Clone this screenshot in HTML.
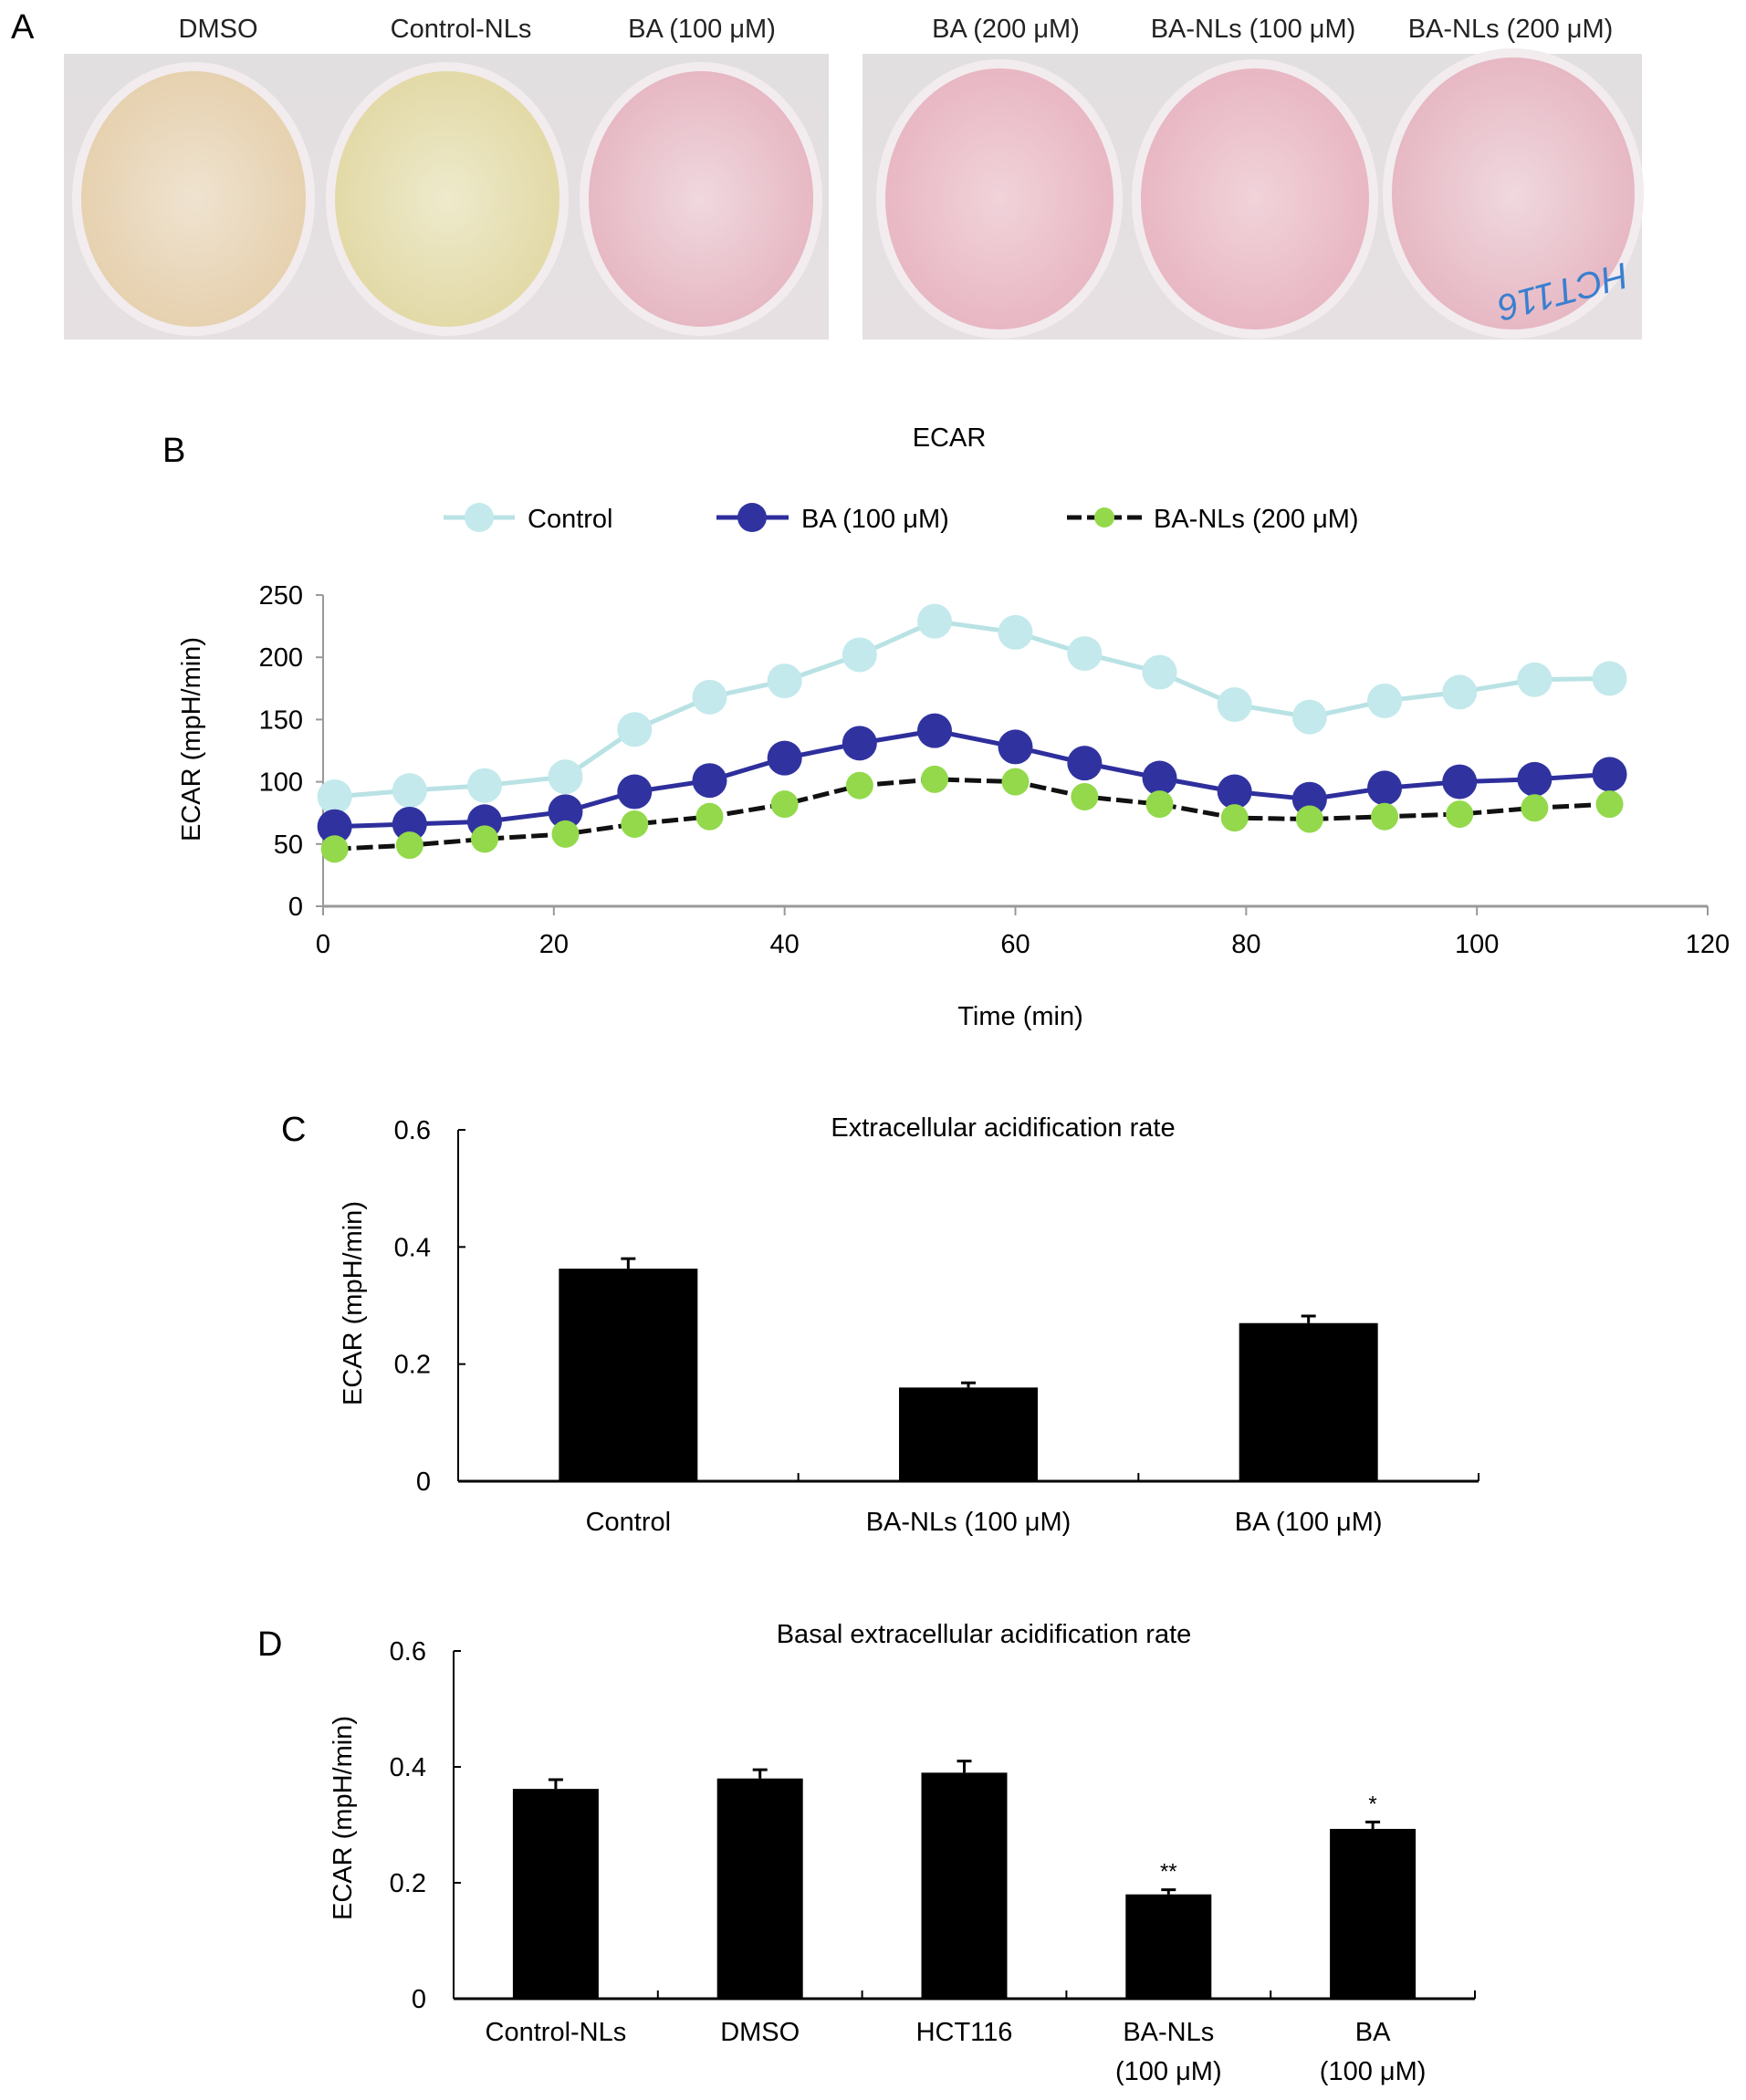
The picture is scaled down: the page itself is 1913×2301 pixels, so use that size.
<!DOCTYPE html>
<html><head><meta charset="utf-8"><style>
html,body{margin:0;padding:0;background:#fff;}
svg{display:block;font-family:"Liberation Sans",sans-serif;}
</style></head><body>
<svg id="fig" width="1913" height="2301" viewBox="0 0 1913 2301" xmlns="http://www.w3.org/2000/svg">
<defs>
<linearGradient id="plate" x1="0" y1="0" x2="0" y2="1"><stop offset="0" stop-color="#e2dfe0"/><stop offset="1" stop-color="#e6e0e2"/></linearGradient>
<radialGradient id="w1"><stop offset="0" stop-color="#efe3d0"/><stop offset="1" stop-color="#e6d0ae"/></radialGradient>
<radialGradient id="w2"><stop offset="0" stop-color="#eeeacc"/><stop offset="1" stop-color="#e2d9a6"/></radialGradient>
<radialGradient id="w3"><stop offset="0" stop-color="#f0d8de"/><stop offset="1" stop-color="#e6b7c3"/></radialGradient>
<radialGradient id="w4"><stop offset="0" stop-color="#f1d3da"/><stop offset="1" stop-color="#e8b6c3"/></radialGradient>
</defs>
<g>
<text x="12" y="42" font-size="38">A</text>
<g font-size="29" text-anchor="middle" fill="#222">
<text x="239" y="41">DMSO</text>
<text x="505" y="41">Control-NLs</text>
<text x="769" y="41">BA (100 μM)</text>
<text x="1102" y="41">BA (200 μM)</text>
<text x="1373" y="41">BA-NLs (100 μM)</text>
<text x="1655" y="41">BA-NLs (200 μM)</text>
</g>
<rect x="70" y="59" width="838" height="313" fill="url(#plate)"/>
<rect x="945" y="59" width="854" height="313" fill="url(#plate)"/>
<g stroke="#f2ecee" stroke-width="10">
<ellipse cx="212" cy="218" rx="128" ry="145" fill="url(#w1)"/>
<ellipse cx="490" cy="218" rx="128" ry="145" fill="url(#w2)"/>
<ellipse cx="768" cy="218" rx="128" ry="145" fill="url(#w3)"/>
<ellipse cx="1095" cy="218" rx="130" ry="148" fill="url(#w4)"/>
<ellipse cx="1375" cy="218" rx="130" ry="148" fill="url(#w4)"/>
<ellipse cx="1658" cy="212" rx="138" ry="154" fill="url(#w3)"/>
</g>
<text x="1712" y="330" font-size="40" fill="#3a7fd0" font-style="italic" text-anchor="middle" transform="rotate(165 1712 318)">HCT116</text>
</g>
<g id="panelB">
<text x="178" y="506" font-size="38">B</text>
<text x="1040" y="489" font-size="29" text-anchor="middle">ECAR</text>
<g>
<g><line x1="486" y1="567" x2="564" y2="567" stroke="#b9e2e4" stroke-width="5"/><circle cx="525" cy="567" r="16" fill="#c3e9ec"/><text x="578" y="578" font-size="29">Control</text></g>
<g><line x1="785" y1="567" x2="864" y2="567" stroke="#2e2f9c" stroke-width="5"/><circle cx="824" cy="567" r="16" fill="#30339f"/><text x="878" y="578" font-size="29">BA (100 μM)</text></g>
<g><line x1="1169" y1="567" x2="1252" y2="567" stroke="#111" stroke-width="5" stroke-dasharray="16 6"/><circle cx="1210" cy="567" r="11" fill="#93d94b"/><text x="1264" y="578" font-size="29">BA-NLs (200 μM)</text></g>
</g>
<g id="bAxes"></g>
<g id="bSeries"></g>
<text x="1118" y="1123" font-size="29" text-anchor="middle">Time (min)</text>
<text transform="translate(219 810) rotate(-90)" font-size="29" text-anchor="middle">ECAR (mpH/min)</text>
</g>
<g id="panelC">
<text x="308" y="1250" font-size="38">C</text>
<text x="1099" y="1245" font-size="29" text-anchor="middle">Extracellular acidification rate</text>
<text transform="translate(396 1428) rotate(-90)" font-size="29" text-anchor="middle">ECAR (mpH/min)</text>
</g>
<g id="panelD">
<text x="282" y="1814" font-size="38">D</text>
<text x="1078" y="1800" font-size="29" text-anchor="middle">Basal extracellular acidification rate</text>
<text transform="translate(385 1992) rotate(-90)" font-size="29" text-anchor="middle">ECAR (mpH/min)</text>
</g>
</svg>
<script>
const bTimes = [1, 7.5, 14, 21, 27, 33.5, 40, 46.5, 53, 60, 66, 72.5, 79, 85.5, 92, 98.5, 105, 111.5];
const bControl = [88, 93, 97, 104, 142, 168, 181, 202, 229, 220, 203, 188, 162, 152, 165, 172, 182, 183];
const bBA = [64, 66, 68, 76, 92, 101, 119, 131, 141, 128, 115, 103, 92, 86, 95, 100, 102, 106];
const bBANLs = [46, 49, 54, 58, 66, 72, 82, 97, 102, 100, 88, 82, 71, 70, 72, 74, 79, 82];
const bXTicks = [0, 20, 40, 60, 80, 100, 120];
const bYTicks = [0, 50, 100, 150, 200, 250];
const cCats = ["Control", "BA-NLs (100 μM)", "BA (100 μM)"];
const cVals = [0.363, 0.160, 0.270];
const cErr = [0.017, 0.008, 0.012];
const cYTicks = [0, 0.2, 0.4, 0.6];
const dCats = [["Control-NLs"], ["DMSO"], ["HCT116"], ["BA-NLs", "(100 μM)"], ["BA", "(100 μM)"]];
const dVals = [0.362, 0.380, 0.390, 0.180, 0.293];
const dErr = [0.016, 0.015, 0.020, 0.008, 0.012];
const dStars = ["", "", "", "**", "*"];
const dYTicks = [0, 0.2, 0.4, 0.6];

const NS = "http://www.w3.org/2000/svg";
function mk(tag, attrs, parent) {
  const e = document.createElementNS(NS, tag);
  for (const k in attrs) e.setAttribute(k, attrs[k]);
  parent.appendChild(e);
  return e;
}
const bx = v => 354 + (v / 120) * (1871 - 354);
const by = v => 993 - (v / 250) * (993 - 652);
const bA = document.getElementById('bAxes');
const bS = document.getElementById('bSeries');
let l = mk('line', {x1: 354, y1: 993, x2: 1871, y2: 993, stroke: '#999', 'stroke-width': 3}, bA);


l = mk('line', {x1: 354, y1: 652, x2: 354, y2: 993, stroke: '#999', 'stroke-width': 2}, bA);


bXTicks.forEach(t => {
  mk('line', {x1: bx(t), y1: 993, x2: bx(t), y2: 1003, stroke: '#999', 'stroke-width': 2}, bA);
  const tx = mk('text', {x: bx(t), y: 1044, 'font-size': 29, 'text-anchor': 'middle'}, bA);
  tx.textContent = t;
  
  
});
bYTicks.forEach(t => {
  mk('line', {x1: 346, y1: by(t), x2: 354, y2: by(t), stroke: '#999', 'stroke-width': 2}, bA);
  const tx = mk('text', {x: 332, y: by(t) + 10, 'font-size': 29, 'text-anchor': 'end'}, bA);
  tx.textContent = t;
  
  
});
function series(vals, color, lineColor, r, name, dash) {
  const g = mk('g', {}, bS);
  
  
  const pts = vals.map((v, i) => bx(bTimes[i]) + ',' + by(v)).join(' ');
  const attrs = {points: pts, fill: 'none', stroke: lineColor, 'stroke-width': 5};
  if (dash) attrs['stroke-dasharray'] = dash;
  mk('polyline', attrs, g);
  vals.forEach((v, i) => {
    const c = mk('circle', {cx: bx(bTimes[i]), cy: by(v), r: r, fill: color}, g);
    
    
  });
}
series(bControl, '#c3e9ec', '#b9e2e4', 19, 'series-control');
series(bBA, '#30339f', '#2e2f9c', 19, 'series-ba-100');
series(bBANLs, '#93d94b', '#111', 15, 'series-ba-nls-200', '18 6');

function barChart(parent, o) {
  const y = v => o.y0 - (v / 0.6) * (o.y0 - o.y6);
  const g = document.getElementById(parent);
  let a = mk('line', {x1: o.ax, y1: o.y6, x2: o.ax, y2: o.y0, stroke: '#000', 'stroke-width': 2}, g);
  
  
  a = mk('line', {x1: o.ax, y1: o.y0, x2: o.xEnd, y2: o.y0, stroke: '#000', 'stroke-width': 3}, g);
  
  
  o.yTicks.forEach(t => {
    mk('line', {x1: o.ax, y1: y(t), x2: o.ax + 8, y2: y(t), stroke: '#000', 'stroke-width': 2}, g);
    const tx = mk('text', {x: o.ax - 30, y: y(t) + 10, 'font-size': 29, 'text-anchor': 'end'}, g);
    tx.textContent = t === 0 ? '0' : t.toFixed(1);
    
    
  });
  const n = o.vals.length;
  const step = (o.xEnd - o.ax) / n;
  for (let k = 1; k <= n; k++) mk('line', {x1: o.ax + k * step, y1: o.y0, x2: o.ax + k * step, y2: o.y0 - 9, stroke: '#000', 'stroke-width': 2}, g);
  o.vals.forEach((v, i) => {
    const cx = o.ax + (i + 0.5) * step;
    const b = mk('rect', {x: cx - o.bw / 2, y: y(v), width: o.bw, height: o.y0 - y(v), fill: '#000'}, g);
    
    
    const e = o.err[i];
    mk('line', {x1: cx, y1: y(v), x2: cx, y2: y(v + e), stroke: '#000', 'stroke-width': 3}, g);
    mk('line', {x1: cx - 8, y1: y(v + e), x2: cx + 8, y2: y(v + e), stroke: '#000', 'stroke-width': 3}, g);
    if (o.stars && o.stars[i]) {
      const s = mk('text', {x: cx, y: y(v + e) - 12, 'font-size': 24, 'text-anchor': 'middle'}, g);
      s.textContent = o.stars[i];
      
      
    }
    const lines = Array.isArray(o.cats[i]) ? o.cats[i] : [o.cats[i]];
    lines.forEach((ln, j) => {
      const t = mk('text', {x: cx, y: o.labY + j * 43, 'font-size': 29, 'text-anchor': 'middle'}, g);
      t.textContent = ln;
      
      
    });
  });
}
barChart('panelC', {ax: 502, y0: 1623, y6: 1238, xEnd: 1620, bw: 152, vals: cVals, err: cErr, cats: cCats, yTicks: cYTicks, labY: 1677});
barChart('panelD', {ax: 497, y0: 2190, y6: 1809, xEnd: 1616, bw: 94, vals: dVals, err: dErr, cats: dCats, yTicks: dYTicks, labY: 2236, stars: dStars});
</script>
</body></html>
